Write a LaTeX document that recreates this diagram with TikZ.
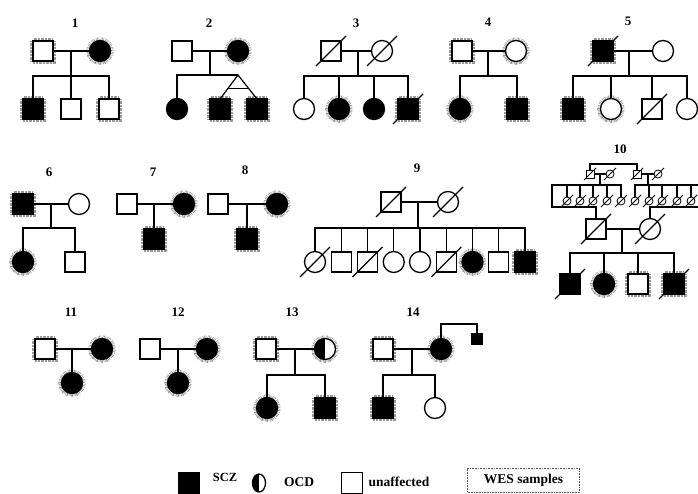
\documentclass[tikz,border=0pt]{standalone}
\usepackage{fontspec}
\setmainfont{Liberation Serif}
\usetikzlibrary{calc,shapes.geometric}

% slash through a deceased individual
\newcommand\deceased[2][15]{\draw[slash] ($(#2.center)+(-#1,#1)$) -- ($(#2.center)+(#1,-#1)$);}
\newcommand\smalldead[1]{\draw[slash,line width=0.8pt] ($(#1.center)+(-6,6)$) -- ($(#1.center)+(6,-6)$);}

\begin{document}
\begin{tikzpicture}[x=1pt,y=-1pt,
  ln/.style={line width=1.2pt},
  slash/.style={line width=1.2pt},
  sym/.style={draw, line width=1.3pt, fill=white, inner sep=0pt, outer sep=0pt},
  sq/.style={sym, rectangle, minimum size=20pt},
  ci/.style={sym, circle, minimum size=21pt},
  tsq/.style={sym, rectangle, minimum size=8pt, line width=0.8pt},
  tci/.style={sym, circle, minimum size=8pt, line width=0.8pt},
  aff/.style={fill=black},
  wes/.style={preaction={draw=black!40, line width=6.5pt, dash pattern=on 0.6pt off 0.8pt}},
  ocd/.style={path picture={\fill[black] (path picture bounding box.north west) rectangle (path picture bounding box.south);}},
  fam/.style={font=\bfseries\fontsize{13}{13}\selectfont, inner sep=0pt},
  leg/.style={font=\bfseries\fontsize{13.5}{14}\selectfont, inner sep=0pt},
]
\useasboundingbox (0,0) rectangle (698,493);
\fill[white] (0,0) rectangle (698,493);

% ---------------- family 1
\node[fam] (l1) at (75,23) {1};
\node[sq,wes] (f1) at (43,51) {};
\node[ci,aff,wes] (m1) at (100,51) {};
\node[sq,aff,wes] (c1a) at (33,109) {};
\node[sq] (c1b) at (71,109) {};
\node[sq,wes] (c1c) at (109,109) {};
\coordinate (u1) at (71,51);
\coordinate (s1) at (71,76);
\draw[ln] (f1) -- (m1);
\draw[ln] (u1) -- (c1b);
\draw[ln] (c1a) |- (s1) -| (c1c);

% ---------------- family 2
\node[fam] (l2) at (209,23) {2};
\node[sq] (f2) at (182,51) {};
\node[ci,aff,wes] (m2) at (238,51) {};
\node[ci,aff] (c2a) at (177,109) {};
\node[sq,aff,wes] (c2b) at (220,109) {};
\node[sq,aff,wes] (c2c) at (257,109) {};
\coordinate (u2) at (210,51);
\coordinate (s2) at (210,75);
\coordinate (tw2) at (238,75);
\draw[ln] (f2) -- (m2);
\draw[ln] (u2) -- (s2);
\draw[ln] (c2a) |- (tw2);
\draw[ln] (c2b.north) -- (tw2) -- (c2c.north);
\draw[ln] ($(tw2)!0.55!(c2b.north)$) -- ($(tw2)!0.55!(c2c.north)$);

% ---------------- family 3
\node[fam] (l3) at (356,23) {3};
\node[sq] (f3) at (331,51) {};
\node[ci] (m3) at (382,51) {};
\node[ci] (c3a) at (304,109) {};
\node[ci,aff,wes] (c3b) at (339,109) {};
\node[ci,aff] (c3c) at (374,109) {};
\node[sq,aff,wes] (c3d) at (408,109) {};
\coordinate (u3) at (358,51);
\coordinate (s3) at (358,76);
\draw[ln] (f3) -- (m3);
\draw[ln] (u3) -- (s3);
\draw[ln] (c3a) |- (s3) -| (c3d);
\draw[ln] (c3b.north) -- (c3b |- s3);
\draw[ln] (c3c.north) -- (c3c |- s3);
\deceased{f3}\deceased{m3}\deceased{c3d}

% ---------------- family 4
\node[fam] (l4) at (488,22) {4};
\node[sq,wes] (f4) at (462,51) {};
\node[ci,wes] (m4) at (516,51) {};
\node[ci,aff,wes] (c4a) at (460,109) {};
\node[sq,aff,wes] (c4b) at (517,109) {};
\coordinate (u4) at (488,51);
\coordinate (s4) at (488,76);
\draw[ln] (f4) -- (m4);
\draw[ln] (u4) -- (s4);
\draw[ln] (c4a) |- (s4) -| (c4b);

% ---------------- family 5
\node[fam] (l5) at (628,21) {5};
\node[sq,aff,wes] (f5) at (603,51) {};
\node[ci] (m5) at (663,51) {};
\node[sq,aff,wes] (c5a) at (573,109) {};
\node[ci,wes] (c5b) at (611,109) {};
\node[sq] (c5c) at (652,109) {};
\node[ci] (c5d) at (687,109) {};
\coordinate (u5) at (629,51);
\coordinate (s5) at (629,76);
\draw[ln] (f5) -- (m5);
\draw[ln] (u5) -- (s5);
\draw[ln] (c5a) |- (s5) -| (c5d);
\draw[ln] (c5b.north) -- (c5b |- s5);
\draw[ln] (c5c.north) -- (c5c |- s5);
\deceased{f5}\deceased{c5c}

% ---------------- family 6
\node[fam] (l6) at (49,172) {6};
\node[sq,aff,wes] (f6) at (23,204) {};
\node[ci] (m6) at (79,204) {};
\node[ci,aff,wes] (c6a) at (23,262) {};
\node[sq] (c6b) at (75,262) {};
\coordinate (u6) at (51,204);
\coordinate (s6) at (51,228);
\draw[ln] (f6) -- (m6);
\draw[ln] (u6) -- (s6);
\draw[ln] (c6a) |- (s6) -| (c6b);

% ---------------- family 7
\node[fam] (l7) at (153,172) {7};
\node[sq] (f7) at (127,204) {};
\node[ci,aff,wes] (m7) at (184,204) {};
\node[sq,aff,wes] (c7) at (154,239) {};
\coordinate (u7) at (154,204);
\draw[ln] (f7) -- (m7);
\draw[ln] (u7) -- (c7);

% ---------------- family 8
\node[fam] (l8) at (245,170) {8};
\node[sq] (f8) at (218,204) {};
\node[ci,aff,wes] (m8) at (277,204) {};
\node[sq,aff,wes] (c8) at (247,239) {};
\coordinate (u8) at (247,204);
\draw[ln] (f8) -- (m8);
\draw[ln] (u8) -- (c8);

% ---------------- family 9
\node[fam] (l9) at (417,168) {9};
\node[sq] (f9) at (391,202) {};
\node[ci] (m9) at (448,202) {};
\node[ci] (c9a) at (315,262) {};
\node[sq] (c9b) at (341.25,262) {};
\node[sq] (c9c) at (367.5,262) {};
\node[ci] (c9d) at (393.75,262) {};
\node[ci] (c9e) at (420,262) {};
\node[sq] (c9f) at (446.25,262) {};
\node[ci,aff,wes] (c9g) at (472.5,262) {};
\node[sq] (c9h) at (498.75,262) {};
\node[sq,aff,wes] (c9i) at (525,262) {};
\coordinate (u9) at (418,202);
\coordinate (s9) at (418,228);
\draw[ln] (f9) -- (m9);
\draw[ln] (u9) -- (s9);
\draw[ln] (c9a) |- (s9) -| (c9i);
\foreach \k in {b,c,d,e,f,g,h}
  \draw[ln] (c9\k.north) -- (c9\k |- s9);
\deceased{f9}\deceased{m9}\deceased{c9a}\deceased{c9c}\deceased{c9f}

% ---------------- family 10
\node[fam] (l10) at (620,149) {10};
% grandparents
\node[tsq] (gL) at (590,174) {};
\node[tci] (hL) at (610,174) {};
\node[tsq] (gR) at (637,174) {};
\node[tci] (hR) at (658,174) {};
\coordinate (top10) at (614,164);
\coordinate (uL) at (600,174);
\coordinate (uR) at (648,174);
\draw[ln] (gL) -- (hL);
\draw[ln] (gR) -- (hR);
\draw[ln] (gL.north) |- (top10) -| (gR.north);
% two sibships of ten
\foreach \k/\x in {1/567,2/580,3/593,4/607,5/621,6/635,7/649,8/662,9/677,10/691}
  \node[tci] (k\k) at (\x,201) {};
\coordinate (bl1) at (552,185);
\coordinate (bl2) at (552,207);
\coordinate (br1) at (708,185);
\coordinate (br2) at (708,207);
% parents
\node[sq] (f10) at (596,229) {};
\node[ci] (m10) at (650,229) {};
\draw[ln] (uL) -- (uL |- bl1);
\draw[ln] (uR) -- (uR |- br1);
\draw[ln] (k5.north) |- (bl1) -- (bl2) -| (f10.north);
\draw[ln] (k6.north) |- (br1) -- (br2) -| (m10.north);
\foreach \k in {1,2,3,4}
  \draw[ln] (k\k.north) -- (k\k |- bl1);
\foreach \k in {7,8,9,10}
  \draw[ln] (k\k.north) -- (k\k |- br1);
\foreach \k in {gL,hL,gR,hR,k1,k2,k3,k4,k5,k6,k7,k8,k9,k10}
  \smalldead{\k}
% children
\node[sq,aff] (d1) at (570,284) {};
\node[ci,aff,wes] (d2) at (604,284) {};
\node[sq,wes] (d3) at (638,284) {};
\node[sq,aff,wes] (d4) at (674,284) {};
\coordinate (u10) at (622,229);
\coordinate (s10) at (622,253);
\draw[ln] (f10) -- (m10);
\draw[ln] (u10) -- (s10);
\draw[ln] (d1) |- (s10) -| (d4);
\draw[ln] (d2.north) -- (d2 |- s10);
\draw[ln] (d3.north) -- (d3 |- s10);
\deceased{f10}\deceased{m10}\deceased{d1}\deceased{d4}

% ---------------- family 11
\node[fam] (l11) at (71,312) {11};
\node[sq,wes] (f11) at (45,349) {};
\node[ci,aff,wes] (m11) at (102,349) {};
\node[ci,aff,wes] (c11) at (72,383) {};
\coordinate (u11) at (72,349);
\draw[ln] (f11) -- (m11);
\draw[ln] (u11) -- (c11);

% ---------------- family 12
\node[fam] (l12) at (178,312) {12};
\node[sq] (f12) at (150,349) {};
\node[ci,aff,wes] (m12) at (207,349) {};
\node[ci,aff,wes] (c12) at (178,383) {};
\coordinate (u12) at (178,349);
\draw[ln] (f12) -- (m12);
\draw[ln] (u12) -- (c12);

% ---------------- family 13
\node[fam] (l13) at (292,312) {13};
\node[sq,wes] (f13) at (266,349) {};
\node[ci,ocd,wes] (m13) at (325,349) {};
\node[ci,aff,wes] (c13a) at (267,408) {};
\node[sq,aff,wes] (c13b) at (325,408) {};
\coordinate (u13) at (295,349);
\coordinate (s13) at (295,375);
\draw[ln] (f13) -- (m13);
\draw[ln] (u13) -- (s13);
\draw[ln] (c13a) |- (s13) -| (c13b);

% ---------------- family 14
\node[fam] (l14) at (413,312) {14};
\node[sq,wes] (f14) at (383,349) {};
\node[ci,aff,wes] (m14) at (441,349) {};
\node[sq,aff,wes] (c14a) at (383,408) {};
\node[ci] (c14b) at (435,408) {};
\node[sym,rectangle,aff,minimum size=10pt] (k14) at (477,339) {};
\coordinate (u14) at (412,349);
\coordinate (s14) at (412,375);
\coordinate (p14) at (441,324);
\draw[ln] (f14) -- (m14);
\draw[ln] (u14) -- (s14);
\draw[ln] (c14a) |- (s14) -| (c14b);
\draw[ln] (m14.north) -- (p14) -| (k14.north);

% ---------------- legend
\node[sq,aff,minimum size=21pt] (lgA) at (189,483) {};
\node[leg,font=\bfseries\fontsize{12.5}{13}\selectfont] (tA) at (225,477) {SCZ};
\node[sym,ellipse,minimum width=13pt,minimum height=18pt,ocd] (lgB) at (259,483) {};
\node[leg] (tB) at (299,482) {OCD};
\node[sq,minimum size=21pt] (lgC) at (352,483) {};
\node[leg] (tC) at (399,482) {unaffected};
\node[leg,draw=black!65,line width=1.8pt,dash pattern=on 0.8pt off 0.8pt,
      minimum width=112pt,minimum height=24pt] (lgD) at (523.5,480.5) {WES samples};
\end{tikzpicture}
\end{document}
